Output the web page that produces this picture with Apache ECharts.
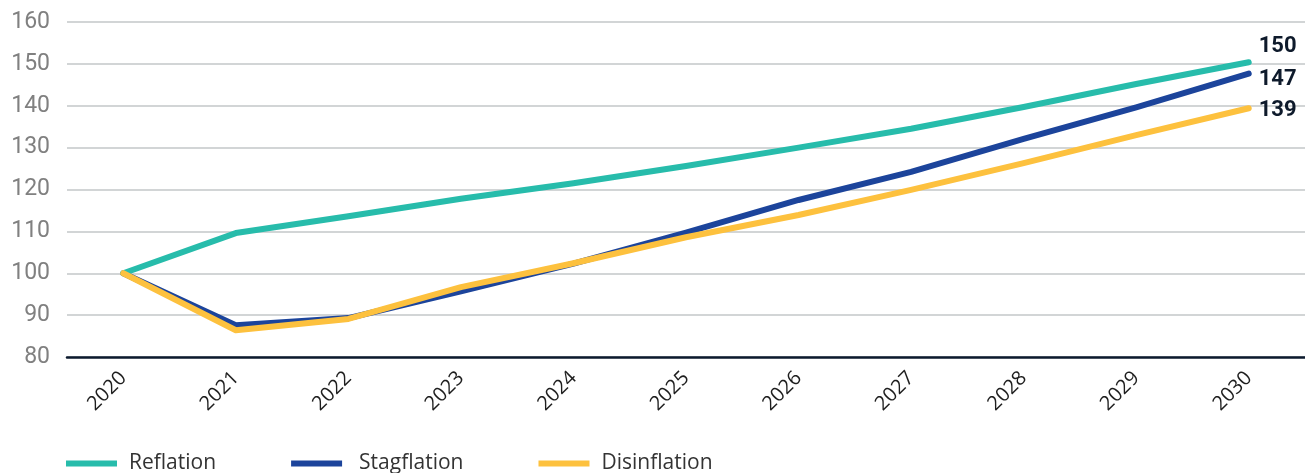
<!DOCTYPE html>
<html>
<head>
<meta charset="utf-8">
<script src="https://cdn.jsdelivr.net/npm/echarts@6/dist/echarts.min.js"></script>
<style>
  html, body { margin: 0; padding: 0; background: #fff; }
  #chart { width: 1305px; height: 473px; }
</style>
</head>
<body>
<div id="chart"></div>
<script>
const years = ['2020', '2021', '2022', '2023', '2024', '2025', '2026', '2027', '2028', '2029', '2030'];
const reflation = [100, 109.6, 113.6, 117.8, 121.5, 125.6, 130.0, 134.5, 139.7, 145.2, 150.4];
const stagflation = [100, 87.6, 89.3, 95.7, 102.3, 109.7, 117.5, 124.2, 132.1, 139.6, 147.7];
const disinflation = [100, 86.4, 89.1, 96.7, 102.4, 108.6, 113.9, 119.9, 126.3, 133.0, 139.4];
const endLabels = ['150', '147', '139'];

const chart = echarts.init(document.getElementById('chart'));

function makeLine(name, values, color, text, offsetY, z) {
  return {
    type: 'line',
    name: name,
    data: values,
    symbol: 'none',
    z: z,
    itemStyle: { color: color },
    lineStyle: { color: color, width: 6, cap: 'round', join: 'round' },
    endLabel: {
      show: true,
      distance: 10,
      offset: [0, offsetY],
      formatter: text,
      color: '#0e1a2b',
      fontSize: 22,
      fontWeight: 'bold',
      fontFamily: 'Roboto'
    }
  };
}

chart.setOption({
  animation: false,
  grid: { left: 67, right: 0, top: 22, bottom: 116 },
  legend: {
    left: 61,
    top: 448,
    icon: 'rect',
    itemWidth: 51,
    itemHeight: 6,
    itemGap: 75,
    textStyle: {
      color: '#333',
      fontSize: 21,
      fontFamily: 'Open Sans',
      padding: [0, 0, 0, 7]
    },
    data: [
      'Reflation',
      { name: 'Stagflation', textStyle: { padding: [0, 5, 0, 12] } },
      'Disinflation'
    ]
  },
  xAxis: {
    type: 'category',
    data: years,
    boundaryGap: true,
    axisLine: { lineStyle: { color: '#0c1a2e', width: 2.5 } },
    axisTick: { show: false },
    axisLabel: {
      rotate: 45,
      color: '#1e1e1e',
      fontSize: 20,
      fontFamily: 'Open Sans',
      margin: 18
    }
  },
  yAxis: {
    type: 'value',
    min: 80,
    max: 160,
    interval: 10,
    axisLine: { show: false },
    axisTick: { show: false },
    splitLine: { lineStyle: { color: '#c3c7c8', width: 1.5 } },
    axisLabel: {
      color: '#808080',
      fontSize: 23,
      fontFamily: 'Roboto',
      margin: 17
    }
  },
  series: [
    makeLine('Reflation', reflation, '#27bcab', endLabels[0], -16, 3),
    makeLine('Stagflation', stagflation, '#1c449b', endLabels[1], 6, 2),
    makeLine('Disinflation', disinflation, '#fdc13e', endLabels[2], 2, 4)
  ]
});
</script>
</body>
</html>
